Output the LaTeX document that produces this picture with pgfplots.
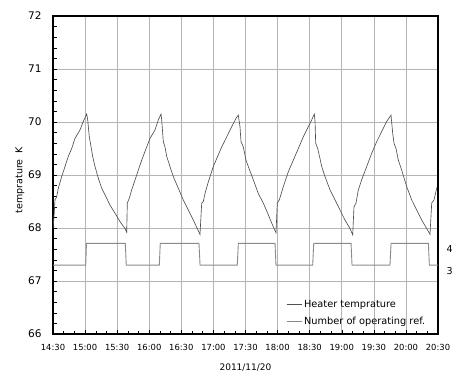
\documentclass[border=0pt]{standalone}
\usepackage{fontspec}
\setmainfont{DejaVu Sans}
\usepackage{pgfplots}
\usepackage{pgfplotstable}
\pgfplotsset{compat=1.18}
\definecolor{gridc}{HTML}{B4B4B4}
\definecolor{tempc}{HTML}{505050}
\definecolor{stepc}{HTML}{8A8A8A}

% minutes after 14:30, heater temperature (K)
\pgfplotstableread{
t T
0 68.00
0.94 68.21
1.87 68.53
3.46 68.59
4.96 68.75
8.14 68.97
11.22 69.16
14.31 69.35
17.49 69.50
20.57 69.69
25.25 69.85
28.33 70.01
31.51 70.15
32.45 70.04
33.94 69.72
35.25 69.57
37.12 69.35
39.27 69.16
42.36 68.94
45.54 68.75
50.21 68.56
53.30 68.43
57.97 68.28
62.65 68.12
67.32 67.99
68.91 67.92
69.48 68.47
71.35 68.56
73.59 68.72
78.27 69.00
82.94 69.28
87.62 69.53
90.70 69.69
95.38 69.85
98.46 70.04
100.99 70.15
101.64 70.04
103.14 69.63
104.73 69.53
106.32 69.35
109.40 69.16
112.49 68.97
117.16 68.75
121.84 68.53
126.52 68.34
131.19 68.15
134.93 67.99
137.45 67.88
139.04 68.47
140.54 68.50
142.13 68.65
145.22 68.87
149.89 69.16
154.57 69.38
157.75 69.53
162.42 69.72
167.10 69.91
171.12 70.07
173.27 70.13
174.86 69.91
175.79 69.63
177.94 69.53
180.47 69.28
182.62 69.16
187.30 68.91
191.97 68.65
196.65 68.47
201.32 68.25
206.00 68.02
208.52 67.91
209.74 68.47
211.61 68.53
215.35 68.78
220.02 69.06
224.70 69.28
229.37 69.50
234.05 69.72
238.72 69.91
241.90 70.04
244.33 70.15
245.00 70.02
245.64 69.60
247.51 69.50
249.66 69.31
251.25 69.16
254.34 68.97
259.01 68.72
263.69 68.53
268.36 68.34
273.04 68.15
277.71 67.99
280.24 67.87
281.45 68.40
283.32 68.47
285.48 68.72
288.65 68.91
293.33 69.16
298.01 69.41
302.68 69.63
307.36 69.82
312.03 70.01
316.05 70.13
317.64 69.79
318.86 69.60
320.73 69.50
322.88 69.28
326.06 69.09
330.73 68.78
335.41 68.53
340.08 68.34
344.76 68.15
349.44 67.99
352.52 67.88
354.11 68.47
356.26 68.53
358.78 68.75
360.00 68.80
}\heater

% minutes after 14:30, number of operating refrigerators
\pgfplotstableread{
t N
0 3
30.6 3
31.3 4
67.6 4
68.5 3
99.4 3
100.3 4
136.5 4
137.5 3
172.3 3
173.3 4
207.6 4
208.5 3
242.8 3
243.8 4
278.7 4
279.6 3
315.1 3
316.1 4
351.0 4
351.9 3
360 3
}\refs

\begin{document}
\begin{tikzpicture}
\useasboundingbox (-53pt,-38pt) rectangle (401pt,334pt);
\begin{axis}[
  at={(0pt,0pt)}, anchor=south west,
  width=385pt, height=318pt, scale only axis,
  xmin=0, xmax=360, ymin=66, ymax=72,
  xtick={0,30,...,360},
  xticklabels={14:30,15:00,15:30,16:00,16:30,17:00,17:30,18:00,18:30,19:00,19:30,20:00,20:30},
  minor x tick num=2,
  ytick={66,67,...,72}, minor y tick num=4,
  tick pos=left, tick align=inside,
  major tick length=4pt, minor tick length=3.5pt,
  every tick/.style={black, line width=0.5pt},
  grid=major, major grid style={gridc, line width=0.6pt},
  axis line style={black, line width=1.1pt},
  /pgf/number format/assume math mode=true,
  xticklabel style={font=\fontsize{8.4}{9}\selectfont, yshift=-7pt},
  yticklabel style={font=\fontsize{10.5}{12}\selectfont, xshift=-8pt},
  xlabel={2011/11/20},
  xlabel style={font=\fontsize{9}{10}\selectfont, at={(axis description cs:0.5,-0.107)}, anchor=center},
  ylabel={temprature\ \ K},
  ylabel style={font=\fontsize{9.5}{11}\selectfont, at={(axis description cs:-0.086,0.484)}, anchor=center},
]
\addplot[tempc, line width=0.65pt] table[x=t, y=T] {\heater};
\end{axis}
\begin{axis}[
  at={(0pt,0pt)}, anchor=south west,
  width=385pt, height=318pt, scale only axis,
  xmin=0, xmax=360, ymin=-0.17, ymax=14.46,
  axis x line=none, axis y line*=right,
  axis line style={black, line width=1.1pt},
  ytick={3,4}, major tick length=0pt,
  /pgf/number format/assume math mode=true,
  yticklabel style={font=\fontsize{9.5}{11}\selectfont, xshift=5pt, yshift=-6pt},
  legend style={at={(rel axis cs:0.605,0.113)}, anchor=north west, draw=none, fill=none,
    font=\fontsize{9.8}{11}\selectfont, row sep=4pt, inner sep=0pt},
  legend cell align=left,
  legend image code/.code={\draw[#1] (0pt,0pt) -- (15pt,0pt);},
]
\addlegendimage{tempc, line width=0.65pt}
\addlegendentry{Heater temprature}
\addplot[stepc, line width=0.9pt] table[x=t, y=N] {\refs};
\addlegendentry{Number of operating ref.}
\end{axis}
\end{tikzpicture}
\end{document}
